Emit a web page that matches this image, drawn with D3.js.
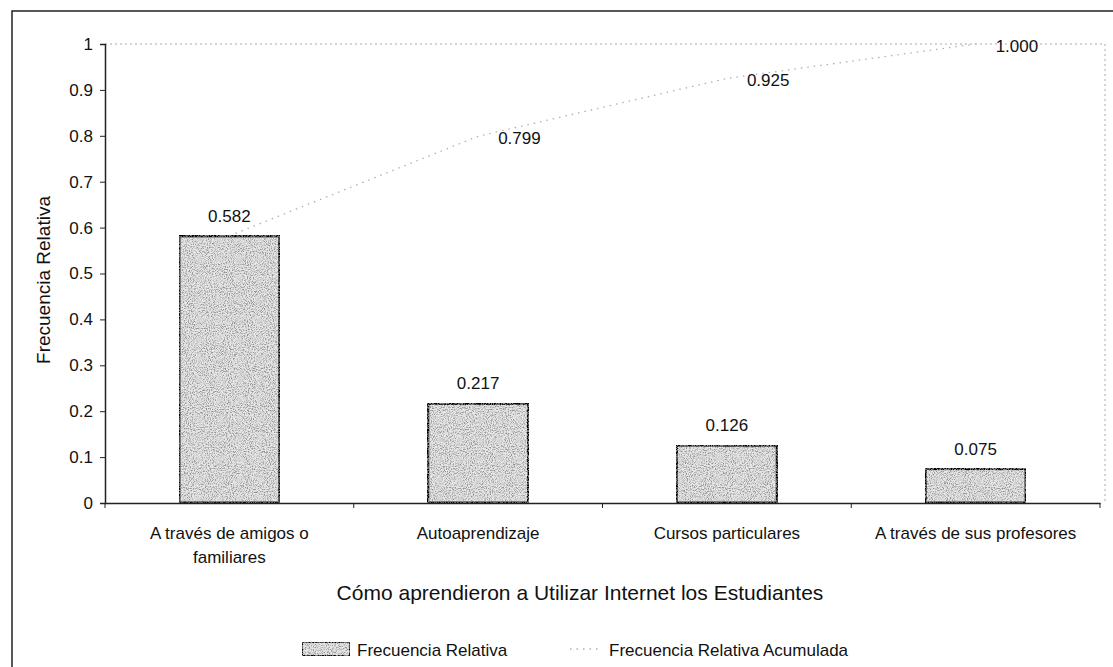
<!DOCTYPE html>
<html>
<head>
<meta charset="utf-8">
<script src="https://cdn.jsdelivr.net/npm/d3@7"></script>
<style>
  body { margin: 0; background: #fff; }
  text { font-family: "Liberation Sans", Arial, sans-serif; fill: #111; }
</style>
</head>
<body>
<svg id="chart" width="1113" height="667"></svg>
<script>
// data
var categories = [["A través de amigos o", "familiares"], ["Autoaprendizaje"], ["Cursos particulares"], ["A través de sus profesores"]];
var relFreq = [0.582, 0.217, 0.126, 0.075];
var cumFreq = [0.582, 0.799, 0.925, 1.000];
var yTicks = [0, 0.1, 0.2, 0.3, 0.4, 0.5, 0.6, 0.7, 0.8, 0.9, 1];

var svg = d3.select("#chart");

var margin = {left: 105, right: 1100, top: 44, bottom: 503};

// stipple texture for the bars
var defs = svg.append("defs");
var filt = defs.append("filter").attr("id", "grain").attr("x", 0).attr("y", 0).attr("width", 1).attr("height", 1);
filt.append("feTurbulence").attr("type", "fractalNoise").attr("baseFrequency", 0.95).attr("numOctaves", 2).attr("seed", 3).attr("result", "noise");
filt.append("feColorMatrix").attr("in", "noise").attr("type", "matrix")
    .attr("values", "0 0 0 0 0.3  0 0 0 0 0.3  0 0 0 0 0.3  0 0 0 -3.2 1.85").attr("result", "dots");
filt.append("feComposite").attr("in", "dots").attr("in2", "SourceGraphic").attr("operator", "in").attr("result", "clipped");
filt.append("feMerge").selectAll("feMergeNode").data(["SourceGraphic", "clipped"]).enter()
    .append("feMergeNode").attr("in", d => d);

// outer frame (right and bottom edges fall outside the picture)
svg.append("rect")
    .attr("x", 12).attr("y", 11).attr("width", 1120).attr("height", 700)
    .attr("fill", "none").attr("stroke", "#222").attr("stroke-width", 1.5);

var xBand = d3.scaleBand()
    .domain(d3.range(categories.length))
    .range([margin.left, margin.right]);

var y = d3.scaleLinear()
    .domain([0, 1])
    .range([margin.bottom, margin.top]);

// plot area border (top / right), faint
svg.append("path")
    .attr("d", `M${margin.left},${margin.top}H${margin.right + 5}V${margin.bottom}`)
    .attr("fill", "none").attr("stroke", "#aaa").attr("stroke-width", 1)
    .attr("stroke-dasharray", "2,3");

// bars
var cx = i => xBand(i) + xBand.bandwidth() / 2;
var barW = xBand.bandwidth() * 0.405;

svg.selectAll(".bar")
    .data(relFreq)
  .enter().append("rect")
    .attr("class", "bar")
    .attr("x", (d, i) => cx(i) - barW / 2)
    .attr("y", d => y(d))
    .attr("width", barW)
    .attr("height", d => y(0) - y(d))
    .attr("fill", "#e6e6e6")
    .attr("filter", "url(#grain)")
    .attr("stroke", "#000")
    .attr("stroke-width", 3);

// y axis
var yAxis = d3.axisLeft(y)
    .tickValues(yTicks)
    .tickFormat(d => d === 0 ? "0" : d === 1 ? "1" : d3.format(".1f")(d))
    .tickSize(5)
    .tickPadding(7);

var gy = svg.append("g")
    .attr("transform", `translate(${margin.left},0)`)
    .call(yAxis);
gy.select(".domain").attr("stroke", "#222").attr("stroke-width", 1.5);
gy.selectAll(".tick line").attr("stroke", "#222");
gy.selectAll(".tick text").style("font-size", "17px").attr("fill", "#111");

// x axis
var xAxis = d3.axisBottom(xBand).tickSize(0).tickFormat("");
var gx = svg.append("g")
    .attr("transform", `translate(0,${margin.bottom})`)
    .call(xAxis);
gx.select(".domain").attr("stroke", "#222").attr("stroke-width", 1.5);

gx.selectAll(".sep")
    .data(d3.range(categories.length + 1))
  .enter().append("line")
    .attr("class", "sep")
    .attr("x1", i => margin.left + i * xBand.bandwidth())
    .attr("x2", i => margin.left + i * xBand.bandwidth())
    .attr("y1", 0).attr("y2", 5)
    .attr("stroke", "#222");

// category labels
svg.selectAll(".cat")
    .data(categories)
  .enter().append("text")
    .attr("class", "cat")
    .attr("text-anchor", "middle")
    .style("font-size", "17px")
    .each(function(lines, i) {
      d3.select(this).selectAll("tspan")
        .data(lines)
        .enter().append("tspan")
          .attr("x", cx(i))
          .attr("y", (l, j) => 539 + j * 24)
          .text(l => l);
    });

// cumulative line
var line = d3.line()
    .x((d, i) => cx(i))
    .y(d => y(d));

svg.append("path")
    .datum(cumFreq)
    .attr("d", line)
    .attr("fill", "none")
    .attr("stroke", "#b0b0b0")
    .attr("stroke-width", 1.3)
    .attr("stroke-dasharray", "1.5,5");

// bar labels
svg.selectAll(".barlab")
    .data(relFreq)
  .enter().append("text")
    .attr("class", "barlab")
    .attr("x", (d, i) => cx(i))
    .attr("y", d => y(d) - 14)
    .attr("text-anchor", "middle")
    .style("font-size", "17px")
    .text(d => d3.format(".3f")(d));

// cumulative labels (first one sits on the bar label)
svg.selectAll(".cumlab")
    .data(cumFreq.slice(1))
  .enter().append("text")
    .attr("class", "cumlab")
    .attr("x", (d, i) => cx(i + 1) + 20)
    .attr("y", d => y(d) + 8)
    .style("font-size", "17px")
    .text(d => d3.format(".3f")(d));

// axis titles
svg.append("text")
    .attr("transform", "translate(50,280) rotate(-90)")
    .attr("text-anchor", "middle")
    .style("font-size", "19px")
    .text("Frecuencia Relativa");

svg.append("text")
    .attr("x", 580).attr("y", 600)
    .attr("text-anchor", "middle")
    .style("font-size", "21px")
    .text("Cómo aprendieron a Utilizar Internet los Estudiantes");

// legend
var leg = svg.append("g").attr("transform", "translate(302,642)");
leg.append("rect")
    .attr("x", 0).attr("y", 0).attr("width", 48).attr("height", 14)
    .attr("fill", "#e6e6e6").attr("filter", "url(#grain)")
    .attr("stroke", "#000").attr("stroke-width", 2);
leg.append("text").attr("x", 55).attr("y", 14).style("font-size", "17px").text("Frecuencia Relativa");
leg.append("line")
    .attr("x1", 268).attr("x2", 296).attr("y1", 7).attr("y2", 7)
    .attr("stroke", "#b0b0b0").attr("stroke-width", 1.3).attr("stroke-dasharray", "1.5,5");
leg.append("text").attr("x", 307).attr("y", 14).style("font-size", "17px").text("Frecuencia Relativa Acumulada");
</script>
</body>
</html>
